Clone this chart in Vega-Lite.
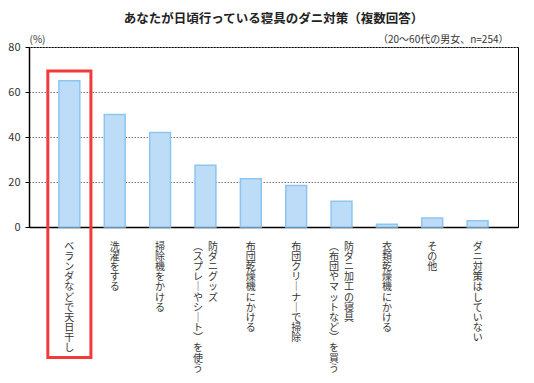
{
  "$schema": "https://vega.github.io/schema/vega-lite/v6.json",
  "width": 489,
  "height": 180,
  "autosize": {"type": "none"},
  "padding": {"left": 29, "top": 47, "right": 16, "bottom": 156},
  "background": "white",
  "config": {
    "font": "Noto Sans CJK JP",
    "view": {"stroke": "#000000", "strokeWidth": 1}
  },
  "title": {
    "text": "あなたが日頃行っている寝具のダニ対策（複数回答）",
    "fontSize": 12.5,
    "fontWeight": "bold",
    "color": "#222222",
    "anchor": "middle",
    "frame": "group",
    "baseline": "bottom",
    "offset": -4
  },
  "data": {
    "values": [
      {"item": "ベランダなどで天日干し", "percent": 65},
      {"item": "洗濯をする", "percent": 50},
      {"item": "掃除機をかける", "percent": 42},
      {"item": "防ダニグッズ（スプレーやシート）を使う", "percent": 27.5},
      {"item": "布団乾燥機にかける", "percent": 21.5},
      {"item": "布団クリーナーで掃除", "percent": 18.5},
      {"item": "防ダニ加工の寝具（布団やマットなど）を買う", "percent": 11.5},
      {"item": "衣類乾燥機にかける", "percent": 1.2},
      {"item": "その他", "percent": 4},
      {"item": "ダニ対策はしていない", "percent": 2.8}
    ]
  },
  "resolve": {"axis": {"x": "independent"}},
  "layer": [
    {
      "mark": {"type": "bar", "fill": "#bddcf7", "stroke": "#8ec5f0", "strokeWidth": 1.5, "width": {"band": 0.46}},
      "encoding": {
        "x": {
          "field": "item",
          "type": "nominal",
          "sort": null,
          "scale": {"paddingInner": 0, "paddingOuter": 0.39},
          "axis": {
            "orient": "bottom",
            "title": null,
            "ticks": false,
            "domainColor": "#000000",
            "domainWidth": 1.5,
            "labelAngle": 0,
            "labelAlign": "center",
            "labelBaseline": "top",
            "labelPadding": 14,
            "labelFontSize": 10,
            "labelLineHeight": 10.2,
            "labelColor": "#333333",
            "labelOverlap": false,
            "labelLimit": 0,
            "labelOffset": {"condition": {"test": "indexof(datum.label, '（') > 0", "value": 7.5}, "value": 0},
            "labelExpr": "split(replace(replace(replace(indexof(datum.label, '（') > 0 ? substring(datum.label, 0, indexof(datum.label, '（')) : datum.label, /ー/g, '｜'), /（/g, '︵'), /）/g, '︶'), '')"
          }
        },
        "y": {
          "field": "percent",
          "type": "quantitative",
          "scale": {"domain": [0, 80], "nice": false},
          "axis": {
            "values": [0, 20, 40, 60, 80],
            "grid": true,
            "gridDash": [1.5, 1.5],
            "gridColor": "#777777",
            "gridWidth": 1,
            "tickSize": 4,
            "tickColor": "#000000",
            "domainColor": "#000000",
            "domainWidth": 1.5,
            "labelFontSize": 11,
            "labelColor": "#333333",
            "labelPadding": 5,
            "title": "(%)",
            "titleAngle": 0,
            "titleAlign": "left",
            "titleBaseline": "middle",
            "titleX": 0,
            "titleY": -8,
            "titleFontSize": 10,
            "titleFontWeight": "normal",
            "titleColor": "#333333"
          }
        }
      }
    },
    {
      "mark": {"type": "bar", "opacity": 0},
      "encoding": {
        "x": {
          "field": "item",
          "type": "nominal",
          "sort": null,
          "axis": {
            "orient": "bottom",
            "domain": false,
            "ticks": false,
            "labelAngle": 0,
            "labelAlign": "center",
            "labelBaseline": "top",
            "labelPadding": 14,
            "labelFontSize": 10,
            "labelLineHeight": 10.2,
            "labelColor": "#333333",
            "labelOverlap": false,
            "labelLimit": 0,
            "labelOffset": -7.5,
            "labelExpr": "indexof(datum.label, '（') > 0 ? split(replace(replace(replace(substring(datum.label, indexof(datum.label, '（')), /ー/g, '｜'), /（/g, '︵'), /）/g, '︶'), '') : ''",
            "title": "（20～60代の男女、n=254）",
            "titleAngle": 0,
            "titleX": 479,
            "titleY": -188,
            "titleAlign": "right",
            "titleBaseline": "middle",
            "titleFontSize": 10,
            "titleFontWeight": "normal",
            "titleColor": "#333333"
          }
        },
        "y": {"field": "percent", "type": "quantitative"}
      }
    },
    {
      "data": {"values": [{}]},
      "mark": {"type": "bar", "fill": "transparent", "stroke": "#f23a3a", "strokeWidth": 3, "width": {"band": 0.95}},
      "encoding": {
        "x": {"datum": "ベランダなどで天日干し", "type": "nominal", "axis": null},
        "y": {"datum": 69.3},
        "y2": {"datum": -58}
      }
    }
  ]
}
